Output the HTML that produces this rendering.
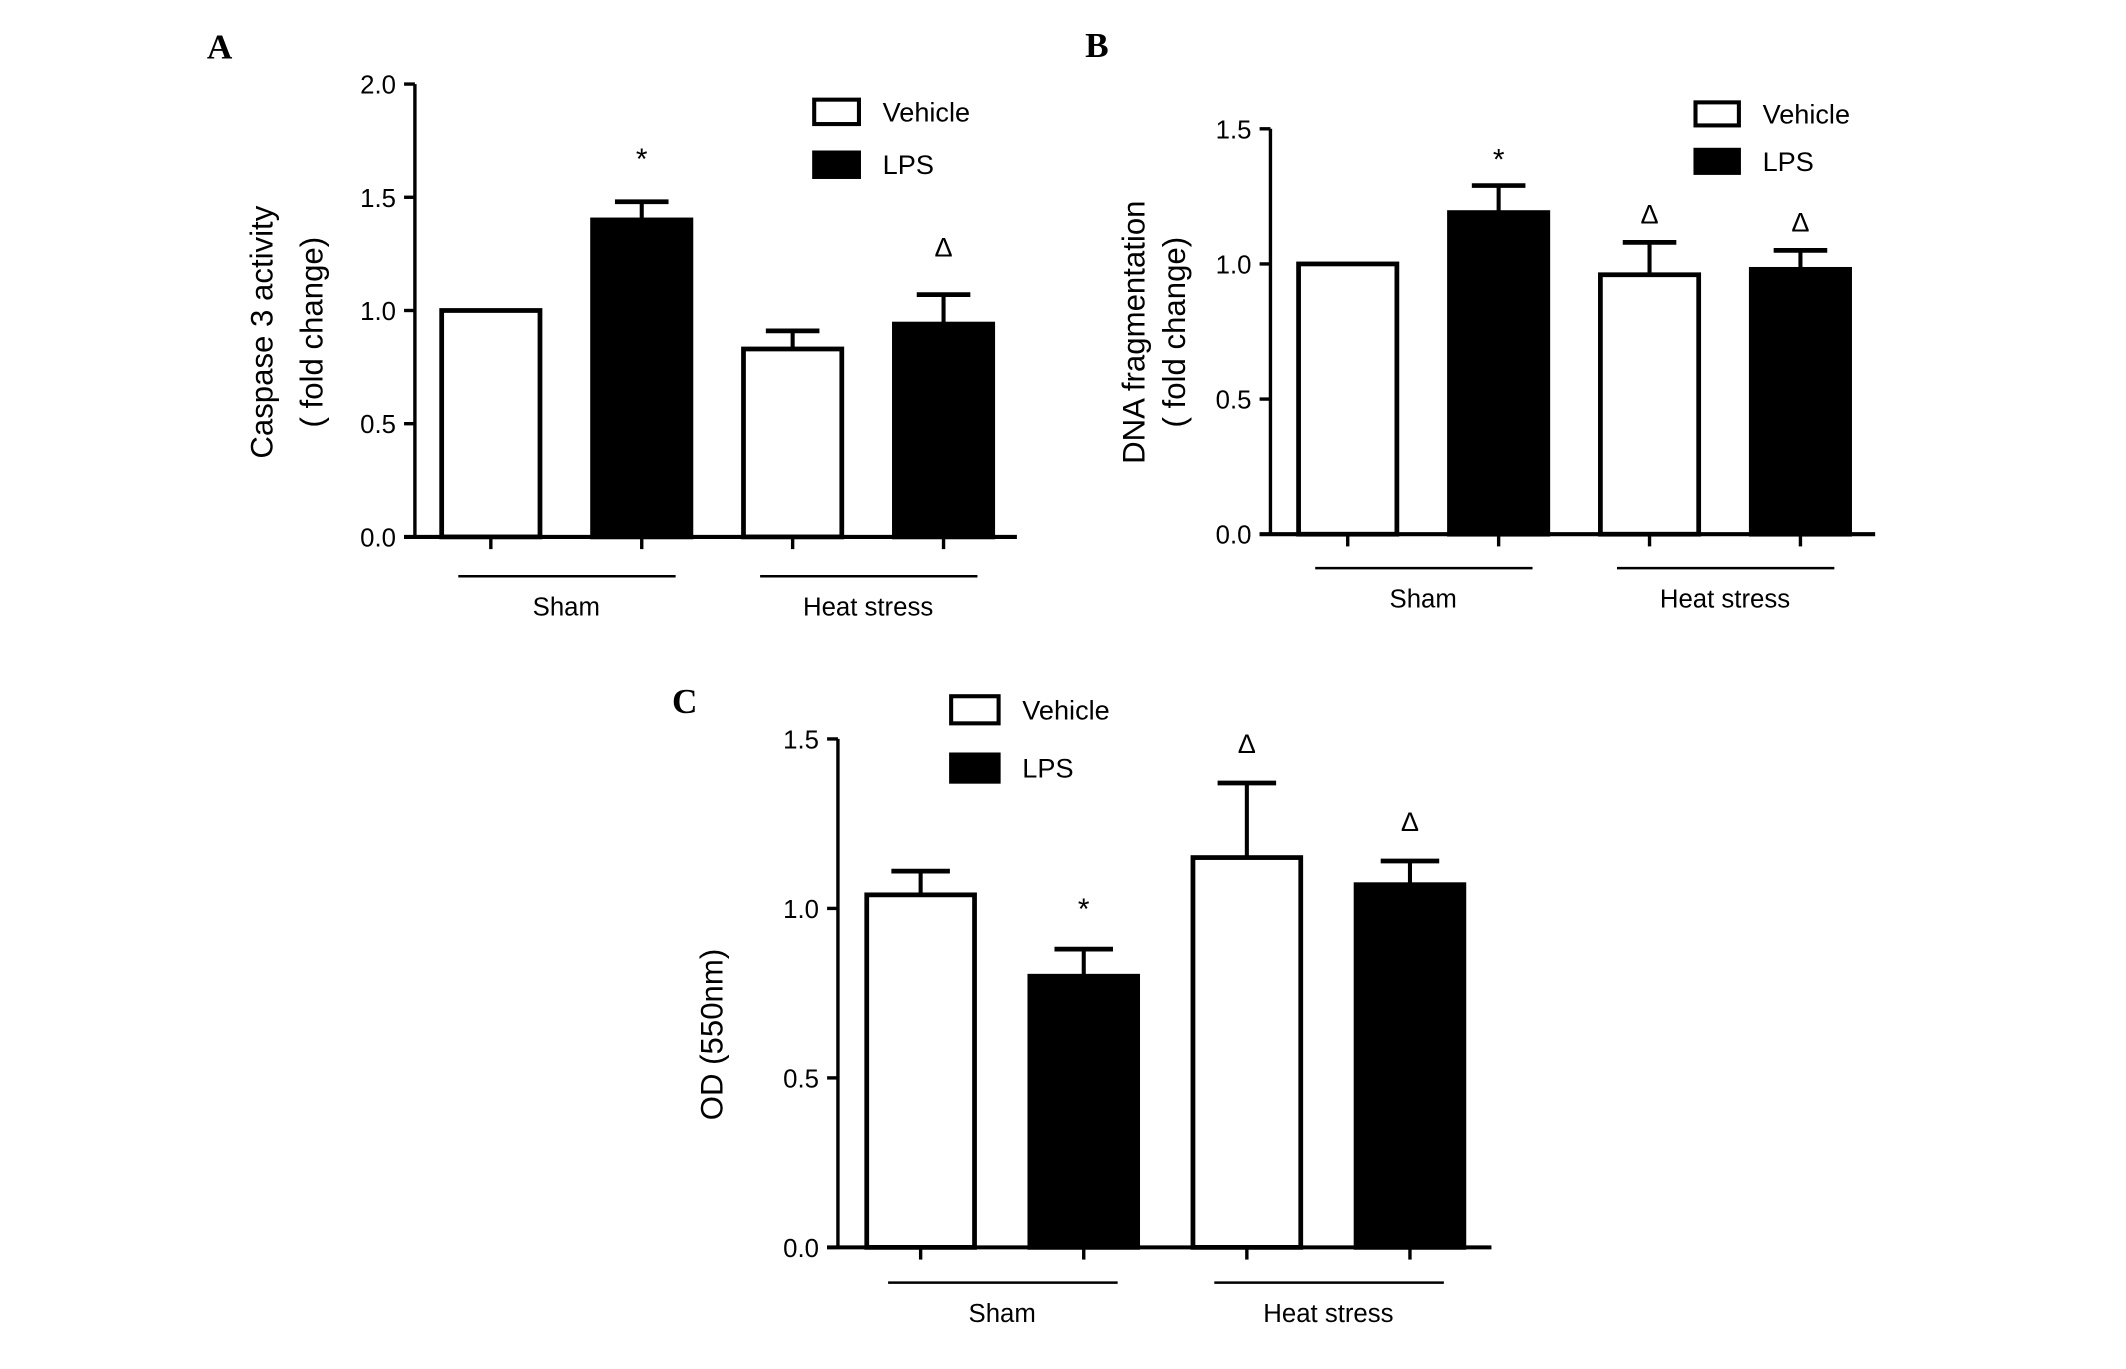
<!DOCTYPE html>
<html><head><meta charset="utf-8"><style>html,body{margin:0;padding:0;background:#fff}svg{display:block}</style></head>
<body>
<svg id="fig" xmlns="http://www.w3.org/2000/svg" width="2126" height="1369" viewBox="0 0 1568 1009.7" font-family="Liberation Sans, sans-serif">
<rect width="1568" height="1010" fill="#fff"/>
</svg>
<script>
const categories = ["Sham-Vehicle","Sham-LPS","Heat-Vehicle","Heat-LPS"];
const groupLabels = ["Sham","Heat stress"];
const legendLabels = ["Vehicle","LPS"];
const valuesA = [1.0, 1.40, 0.83, 0.94];
const errorsA = [0, 0.08, 0.08, 0.13];
const marksA = ["", "*", "", "Δ"];
const ticksA = ["0.0","0.5","1.0","1.5","2.0"];
const valuesB = [1.0, 1.19, 0.96, 0.98];
const errorsB = [0, 0.10, 0.12, 0.07];
const marksB = ["", "*", "Δ", "Δ"];
const ticksB = ["0.0","0.5","1.0","1.5"];
const valuesC = [1.04, 0.80, 1.15, 1.07];
const errorsC = [0.07, 0.08, 0.22, 0.07];
const marksC = ["", "*", "Δ", "Δ"];
const ticksC = ["0.0","0.5","1.0","1.5"];

const NS="http://www.w3.org/2000/svg";
const svg=document.getElementById('fig');
function mk(tag,attrs,parent,text){const e=document.createElementNS(NS,tag);for(const k in attrs)e.setAttribute(k,attrs[k]);if(text!==undefined)e.textContent=text;(parent||svg).appendChild(e);return e;}

function panel(cfg){
  const g=mk('g',{});
  
  
  const y=v=>cfg.y0-(v/cfg.ymax)*(cfg.y0-cfg.ytop);
  const lt=mk('text',{x:cfg.letter[0],y:cfg.letter[1],'font-family':'Liberation Serif, serif','font-weight':'bold','font-size':26,'text-anchor':'middle'},g,cfg.letterText);
  
  
  const ya=mk('line',{x1:cfg.ax,y1:cfg.y0,x2:cfg.ax,y2:cfg.ytop,stroke:'#000','stroke-width':2.5},g);
  
  
  const xa=mk('line',{x1:cfg.ax-8,y1:cfg.y0,x2:cfg.axEnd,y2:cfg.y0,stroke:'#000','stroke-width':3},g);
  
  
  cfg.ticks.forEach(t=>{
    const v=parseFloat(t), yy=y(v);
    mk('line',{x1:cfg.ax-8,y1:yy,x2:cfg.ax,y2:yy,stroke:'#000','stroke-width':2.5},g);
    const tl=mk('text',{x:cfg.ax-14,y:yy+7,'font-size':19,'text-anchor':'end'},g,t);
    
    
  });
  const tt=mk('text',{transform:`translate(${cfg.titleX},${cfg.titleY}) rotate(-90)`,'font-size':23,'text-anchor':'middle'},g);
  
  
  cfg.title.forEach((line,i)=>mk('tspan',{x:0,y:i*cfg.titleGap},tt,line));
  cfg.values.forEach((v,i)=>{
    const cx=cfg.cx0+i*cfg.step, x0=cx-cfg.bw/2, top=y(v);
    const fill=i%2?'#000':'#fff';
    if(cfg.errors[i]>0){
      const et=y(v+cfg.errors[i]);
      const el=mk('line',{x1:cx,y1:top,x2:cx,y2:et,stroke:'#000','stroke-width':3},g);
      
      
      mk('line',{x1:cx-cfg.bw*0.26,y1:et,x2:cx+cfg.bw*0.26,y2:et,stroke:'#000','stroke-width':3.5},g);
    }
    const r=mk('rect',{x:x0+1.75,y:top,width:cfg.bw-3.5,height:cfg.y0-top,fill:fill,stroke:'#000','stroke-width':3.5},g);
    
    
    mk('line',{x1:cx,y1:cfg.y0,x2:cx,y2:cfg.y0+9,stroke:'#000','stroke-width':2.5},g);
    if(cfg.marks[i]){
      const et=y(v+cfg.errors[i]);
      const isStar=cfg.marks[i]==='*';
      const m=mk('text',{x:cx,y:et-(isStar?cfg.starOff:cfg.deltaOff),'font-size':isStar?22:20,'text-anchor':'middle'},g,cfg.marks[i]);
      
      
    }
  });
  groupLabels.forEach((lab,j)=>{
    const c1=cfg.cx0+2*j*cfg.step, c2=c1+cfg.step, mid=(c1+c2)/2;
    mk('line',{x1:c1-24,y1:cfg.y0+cfg.gl,x2:c2+25,y2:cfg.y0+cfg.gl,stroke:'#000','stroke-width':1.8},g);
    const gt=mk('text',{x:mid,y:cfg.y0+cfg.gl+29,'font-size':19,'text-anchor':'middle'},g,lab);
    
    
  });
  legendLabels.forEach((lab,i)=>{
    const ly=cfg.leg[1]+i*cfg.legGap;
    const b=mk('rect',{x:cfg.leg[0]+1.5,y:ly+1.5,width:cfg.legW-3,height:cfg.legH-3,fill:i?'#000':'#fff',stroke:'#000','stroke-width':3},g);
    
    
    const t=mk('text',{x:cfg.leg[0]+cfg.legW+16,y:ly+cfg.legH/2+7,'font-size':20},g,lab);
    
    
  });
}

panel({name:'panel-a',letterText:'A',letter:[162,43],ax:306,axEnd:750,y0:396,ytop:62,ymax:2.0,ticks:ticksA,
  values:valuesA,errors:errorsA,marks:marksA,cx0:362,step:111.3,bw:76,gl:29,starOff:24,deltaOff:28,
  title:['Caspase 3 activity','( fold change)'],titleX:201,titleY:245,titleGap:37,
  leg:[599,72],legGap:39,legW:36,legH:21});
panel({name:'panel-b',letterText:'B',letter:[809,42],ax:937,axEnd:1383,y0:394,ytop:95,ymax:1.5,ticks:ticksB,
  values:valuesB,errors:errorsB,marks:marksB,cx0:994,step:111.3,bw:76,gl:25,starOff:12,deltaOff:14,
  title:['DNA fragmentation','( fold change)'],titleX:844,titleY:245,titleGap:30,
  leg:[1249,74],legGap:35,legW:35,legH:20});
panel({name:'panel-c',letterText:'C',letter:[505,526],ax:618,axEnd:1100,y0:920,ytop:545,ymax:1.5,ticks:ticksC,
  values:valuesC,errors:errorsC,marks:marksC,cx0:679,step:120.3,bw:83,gl:26,starOff:22,deltaOff:22,
  title:['OD (550nm)'],titleX:533,titleY:763,titleGap:0,
  leg:[700,512],legGap:43,legW:38,legH:23});
</script>
</body></html>
